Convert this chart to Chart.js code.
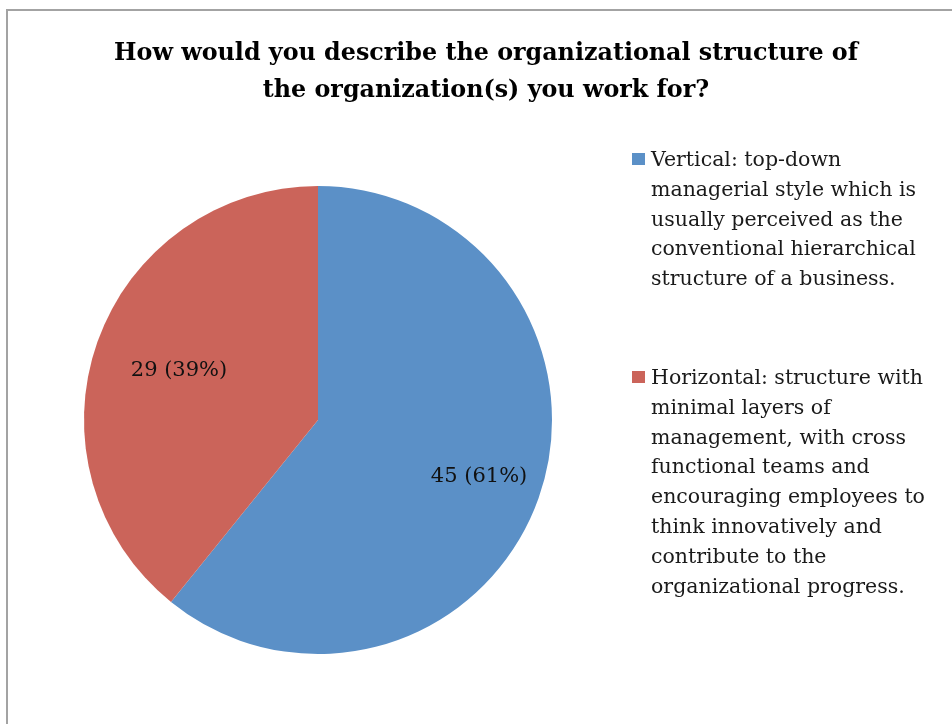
<!DOCTYPE html>
<html>
<head>
<meta charset="utf-8">
<script src="https://cdn.jsdelivr.net/npm/chart.js@4.4.1/dist/chart.umd.min.js"></script>
<style>
  html, body { margin: 0; padding: 0; background: #fff; }
  #wrap { position: relative; width: 952px; height: 724px; overflow: hidden; }
  #frame {
    position: absolute; left: 6px; top: 9px; width: 1000px; height: 800px;
    border: 2px solid #a3a3a3; box-sizing: border-box;
  }
  #chartBox { position: absolute; left: 0; top: 0; width: 952px; height: 724px; }
  #title {
    position: absolute; left: 30px; width: 912px; top: 34px;
    text-align: center; font-family: "DejaVu Serif", serif; font-weight: bold;
    font-size: 23.8px; line-height: 37px; color: #000;
  }
  .leg { position: absolute; left: 632px; font-family: "DejaVu Serif", serif;
    font-size: 20.5px; line-height: 29.8px; color: #1a1a1a; }
  .leg .sw { position: absolute; left: 0; top: 8px; width: 13px; height: 12px; }
  .leg .tx { margin-left: 19px; white-space: nowrap; }
</style>
</head>
<body>
<div id="wrap">
  <div id="frame"></div>
  <div id="chartBox"><canvas id="pie"></canvas></div>
  <div id="title"></div>
  <div id="legend"></div>
</div>
<script>
// ── Chart data ───────────────────────────────────────────────────────────
const titleLines = [
  'How would you describe the organizational structure of',
  'the organization(s) you work for?'
];
const categories = ['Vertical', 'Horizontal'];
const counts     = [45, 29];
const sliceColors = ['#5b90c7', '#cb645a'];
// legend text, already broken the way the original wraps it
const legendLines = [
  ['Vertical: top-down', 'managerial style which is', 'usually perceived as the',
   'conventional hierarchical', 'structure of a business.'],
  ['Horizontal: structure with', 'minimal layers of', 'management, with cross',
   'functional teams and', 'encouraging employees to', 'think innovatively and',
   'contribute to the', 'organizational progress.']
];

document.getElementById('title').innerHTML = titleLines.join('<br>');

// HTML legend (Chart.js legend can't wrap long labels)
const legTops = [145, 363];
const legEl = document.getElementById('legend');
legendLines.forEach((lines, i) => {
  const d = document.createElement('div');
  d.className = 'leg';
  d.style.top = legTops[i] + 'px';
  d.innerHTML = `<div class="sw" style="background:${sliceColors[i]}"></div>` +
    `<div class="tx">${lines.join('<br>')}</div>`;
  legEl.appendChild(d);
});

// "45 (61%)" labels inside the slices; Excel sits them at slightly
// different depths per slice
const labelDepth = [0.73, 0.63];
const sliceLabels = {
  id: 'sliceLabels',
  afterDatasetsDraw(chart) {
    const { ctx } = chart;
    const meta = chart.getDatasetMeta(0);
    const total = counts.reduce((a, b) => a + b, 0);
    ctx.save();
    ctx.font = '21px "DejaVu Serif", serif';
    ctx.fillStyle = '#111';
    ctx.textAlign = 'center';
    ctx.textBaseline = 'middle';
    meta.data.forEach((arc, i) => {
      const mid = (arc.startAngle + arc.endAngle) / 2;
      const r = arc.outerRadius * labelDepth[i];
      const x = arc.x + Math.cos(mid) * r;
      const y = arc.y + Math.sin(mid) * r;
      const pct = Math.round(counts[i] / total * 100);
      ctx.fillText(`${counts[i]} (${pct}%)`, x, y);
    });
    ctx.restore();
  }
};

new Chart(document.getElementById('pie'), {
  type: 'pie',
  data: {
    labels: categories,
    datasets: [{
      data: counts,
      backgroundColor: sliceColors,
      borderWidth: 0,
    }]
  },
  options: {
    responsive: true, maintainAspectRatio: false,
    animation: false,
    layout: { padding: { left: 84, right: 400, top: 186, bottom: 70 } },
    plugins: {
      legend: { display: false },
      title: { display: false },
      tooltip: { enabled: false },
    }
  },
  plugins: [sliceLabels]
});
</script>
</body>
</html>
